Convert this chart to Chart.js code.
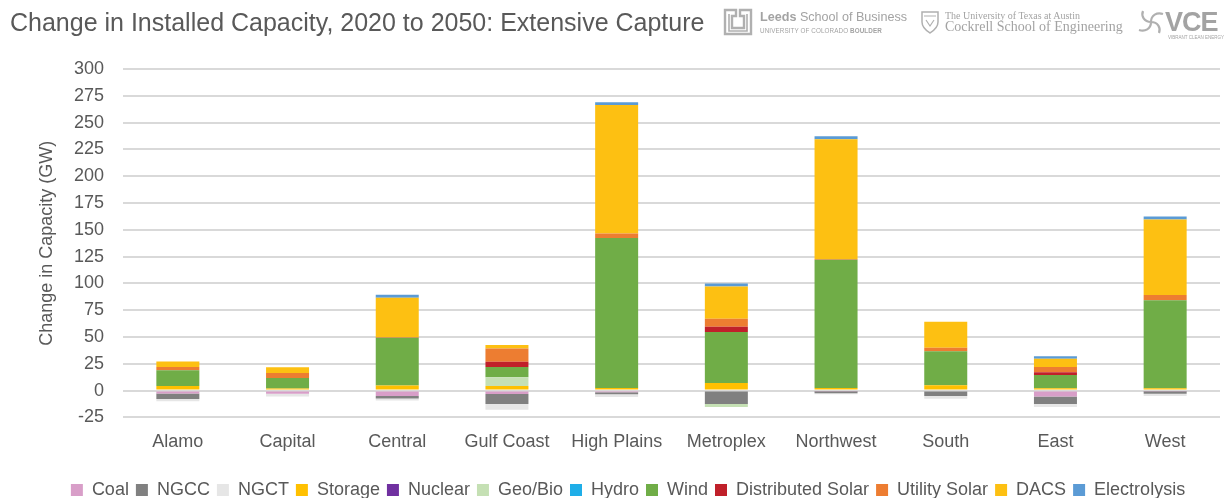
<!DOCTYPE html>
<html>
<head>
<meta charset="utf-8">
<script src="https://cdn.jsdelivr.net/npm/chart.js@4.4.1/dist/chart.umd.min.js"></script>
<style>
  html, body { margin: 0; padding: 0; background: #fff; }
  #wrap { position: relative; width: 1224px; height: 498px; overflow: hidden; font-family: "Liberation Sans", Arial, sans-serif; }
  #chart { position: absolute; left: 0; top: 0; }
  .hdr { position: absolute; white-space: nowrap; }
  #title { left: 10px; top: 8px; font-size: 25px; color: #595959; }
  .logo { color: #a3a3a3; }
  .serif { font-family: "Liberation Serif", "DejaVu Serif", serif; }
</style>
</head>
<body>
<div id="wrap">
  <canvas id="chart" width="1224" height="498"></canvas>
  <div id="title" class="hdr">Change in Installed Capacity, 2020 to 2050: Extensive Capture</div>

  <!-- Leeds School of Business mark -->
  <svg class="hdr" style="left:722px;top:7px" width="32" height="30" viewBox="0 0 32 30">
    <path d="M3 3 H14 V9 H10 V21 H22 V9 H18 V3 H29 V27 H3 Z" fill="none" stroke="#b0b0b0" stroke-width="2.4"/>
    <path d="M7 7 V24 H25 V7" fill="none" stroke="#b0b0b0" stroke-width="1.6"/>
  </svg>
  <div class="hdr logo" style="left:760px;top:10px;font-size:12.6px;"><b>Leeds</b> School of Business</div>
  <div class="hdr logo" style="left:760px;top:27px;font-size:6.3px;letter-spacing:0.1px;">UNIVERSITY OF COLORADO <b>BOULDER</b></div>

  <!-- Cockrell School of Engineering mark -->
  <svg class="hdr" style="left:920px;top:10px" width="20" height="24" viewBox="0 0 20 24">
    <path d="M2 2 H18 V12 C18 18 13 21 10 23 C7 21 2 18 2 12 Z" fill="none" stroke="#b0b0b0" stroke-width="1.5"/>
    <path d="M4 6 H16 M6 10 L10 16 L14 10" fill="none" stroke="#b0b0b0" stroke-width="1.2"/>
  </svg>
  <div class="hdr logo serif" style="left:945px;top:10px;font-size:10px;">The University of Texas at Austin</div>
  <div class="hdr logo serif" style="left:945px;top:19px;font-size:14px;">Cockrell School of Engineering</div>

  <!-- VCE mark -->
  <svg class="hdr" style="left:1137px;top:9px" width="28" height="26" viewBox="0 0 28 26">
    <path d="M14 13 C14 6 20 3 26 5 M14 13 C7 13 4 7 6 2 M14 13 C14 20 8 23 2 21 M14 13 C21 13 24 19 22 24" fill="none" stroke="#b0b0b0" stroke-width="2.2"/>
  </svg>
  <div class="hdr logo" style="left:1165px;top:7px;font-size:27px;font-weight:bold;letter-spacing:-1px;">VCE</div>
  <div class="hdr logo" style="left:1168px;top:35px;font-size:4.5px;">VIBRANT CLEAN ENERGY</div>
</div>

<script>
// Regions (categories) and capacity change by technology, GW (2050 minus 2020)
const regions = ['Alamo', 'Capital', 'Central', 'Gulf Coast', 'High Plains', 'Metroplex', 'Northwest', 'South', 'East', 'West'];

const coal         = [-2.6, -3.0, -5.0, -3.2, -1.5,   0.0,  -0.5,  0.0, -5.6, -0.5];
const ngcc         = [-5.3,  0.0, -2.3, -9.3, -2.0, -12.5,  -2.0, -5.0, -6.9, -2.5];
const ngct         = [-2.0, -2.5, -2.0, -5.3, -2.5,   0.0,  -1.0, -2.5, -2.8, -2.0];
const storage      = [ 4.3,  1.9,  4.7,  4.4,  2.5,   7.1,   2.5,  5.0,  2.2,  2.2];
const nuclear      = [ 0,    0,    0,    0,    0,     0,     0,    0,    0,    0  ];
const geoBio       = [ 0,    0,    0,    8.1,  0,    -2.8,   0,    0,    0,    0  ];
const hydro        = [ 0,    0,    0,    0,    0,     0,     0,    0,    0,    0  ];
const wind         = [14.7,  9.9, 44.6,  9.6, 139.8, 47.5, 119.5, 31.8, 12.4, 82.1];
const distSolar    = [ 0,    0,    0,    4.7,  0,     5.0,   0,    0,    2.5,  0  ];
const utilitySolar = [ 3.1,  4.7,  0.6, 12.5,  4.3,   7.4,   0.8,  3.1,  5.0,  4.9];
const dacs         = [ 5.1,  5.3, 36.8,  3.2, 119.9, 30.0, 111.6, 24.3,  7.5, 70.3];
const electrolysis = [ 0,    0,    2.6,  0,    2.5,   2.8,   2.8,  0,    2.5,  2.8];

const yTicks = { min: -25, max: 300, step: 25 };

const series = [
  { label: 'Coal',              data: coal,         color: '#D89EC8' },
  { label: 'NGCC',              data: ngcc,         color: '#808080' },
  { label: 'NGCT',              data: ngct,         color: '#E6E6E6' },
  { label: 'Storage',           data: storage,      color: '#FFC000' },
  { label: 'Nuclear',           data: nuclear,      color: '#7030A0' },
  { label: 'Geo/Bio',           data: geoBio,       color: '#C5E0B4' },
  { label: 'Hydro',             data: hydro,        color: '#1FAEE8' },
  { label: 'Wind',              data: wind,         color: '#70AD47' },
  { label: 'Distributed Solar', data: distSolar,    color: '#C0202A' },
  { label: 'Utility Solar',     data: utilitySolar, color: '#ED7D31' },
  { label: 'DACS',              data: dacs,         color: '#FDC012' },
  { label: 'Electrolysis',      data: electrolysis, color: '#5B9BD5' }
];

const FONT = '"Liberation Sans", Arial, sans-serif';
const TEXT = '#595959';

new Chart(document.getElementById('chart'), {
  type: 'bar',
  data: {
    labels: regions,
    datasets: series.map(s => ({
      label: s.label,
      data: s.data,
      backgroundColor: s.color,
      borderWidth: 0,
      categoryPercentage: 1.0,
      barPercentage: 0.392
    }))
  },
  options: {
    responsive: false,
    animation: false,
    layout: { padding: { top: 69, right: 4, bottom: -11, left: 36 } },
    plugins: {
      title: { display: false },
      tooltip: { enabled: false },
      legend: {
        position: 'bottom',
        labels: {
          boxWidth: 12,
          boxHeight: 12,
          padding: 7,
          color: TEXT,
          font: { family: FONT, size: 18 }
        }
      }
    },
    scales: {
      x: {
        stacked: true,
        afterFit: (scale) => { scale.height = 56.6; },
        grid: { display: false, drawTicks: false },
        border: { display: false },
        ticks: { color: TEXT, padding: 14, font: { family: FONT, size: 18 } }
      },
      y: {
        stacked: true,
        min: yTicks.min,
        max: yTicks.max,
        afterFit: (scale) => { scale.width = 87; },
        grid: { color: '#D9D9D9', lineWidth: 2, drawTicks: false },
        border: { display: false },
        ticks: { stepSize: yTicks.step, color: TEXT, padding: 19, font: { family: FONT, size: 18 } },
        title: {
          display: true,
          text: 'Change in Capacity (GW)',
          color: TEXT,
          padding: { top: 0, bottom: 0 },
          font: { family: FONT, size: 18 }
        }
      }
    }
  }
});
</script>
</body>
</html>
